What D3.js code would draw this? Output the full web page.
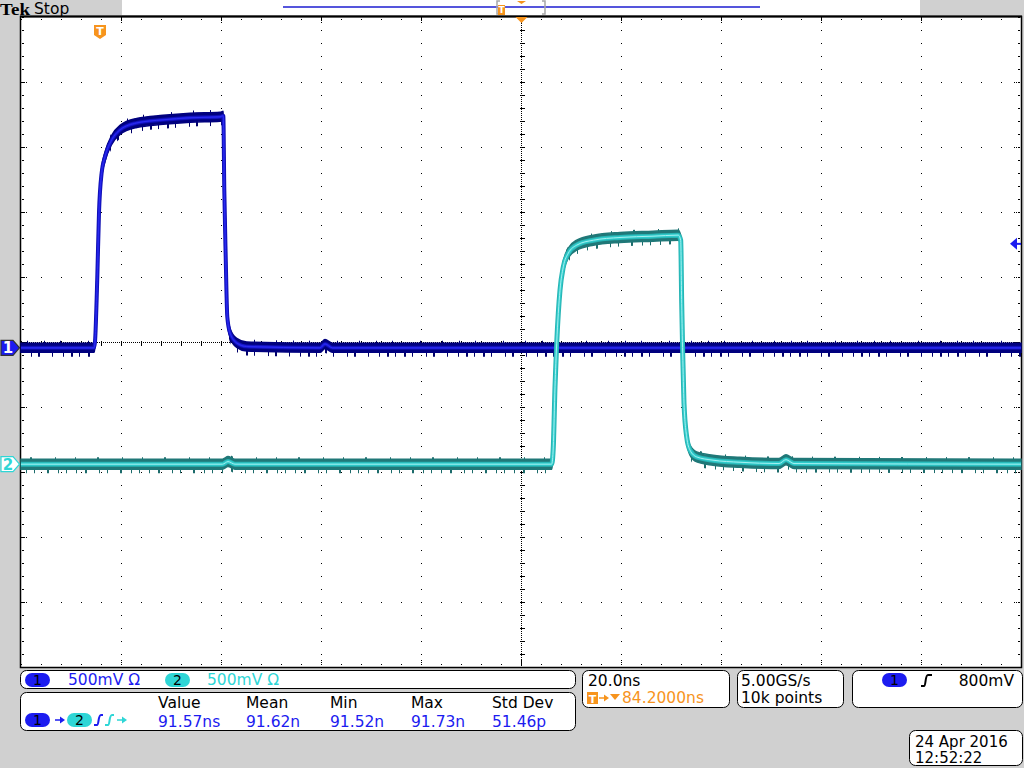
<!DOCTYPE html>
<html><head><meta charset="utf-8">
<script src="https://cdn.jsdelivr.net/npm/d3@7"></script>
<style>
body{margin:0;background:#d0d0d0;}
svg{display:block;}
text{font-family:"DejaVu Sans",sans-serif;}
</style>
</head><body>
<svg id="c" width="1024" height="768"></svg>
<script>
// ---------------- DATA ----------------
// Horizontal: 20 ns/div, trigger delay 84.2 ns at center
const timeTicks = [-15.8, 4.2, 24.2, 44.2, 64.2, 84.2, 104.2, 124.2, 144.2, 164.2, 184.2];
// Vertical divisions
const divTicks = [-5, -4, -3, -2, -1, 0, 1, 2, 3, 4, 5];
const voltsPerDiv = 0.5;
const ch1Position = -0.09;   // divisions
const ch2Position = -1.88;   // divisions
const triggerLevel = 0.8;    // volts on CH1

// Channel 1 (ns, V)
const ch1Time  = [-15.8, -1.2, -1.0, -0.54, -0.2, 0.34, 1.0, 2.34, 4.0, 7.34, 12.6, 18.0, 24.0, 24.66, 24.86, 25.14, 25.46, 26.0, 27.34, 29.34, 44.0, 45.0, 46.5, 184.2];
const ch1Volts = [0, 0, 0.046, 0.546, 1.04, 1.35, 1.47, 1.6, 1.677, 1.73, 1.754, 1.77, 1.777, 1.785, 1.215, 0.70, 0.238, 0.115, 0.038, 0.01, 0, 0.03, 0, 0];

// Channel 2 (ns, V)
const ch2Time  = [-15.8, 24.5, 25.6, 27.0, 90.34, 90.66, 91.0, 91.34, 91.66, 92.0, 92.66, 93.66, 95.34, 98.66, 104, 110.6, 115.66, 116.14, 116.34, 116.54, 116.8, 117.34, 118.0, 119.34, 122.6, 128, 135.8, 137.2, 138.8, 184.2];
const ch2Volts = [0, 0, 0.02, 0, 0, 0.133, 0.595, 0.93, 1.16, 1.338, 1.518, 1.623, 1.685, 1.723, 1.744, 1.754, 1.762, 1.723, 1.238, 0.854, 0.469, 0.21, 0.108, 0.056, 0.031, 0.015, 0.005, 0.035, 0.005, 0];

// Measurement readout
const measHeaders = ["Value", "Mean", "Min", "Max", "Std Dev"];
const measValues  = ["91.57ns", "91.62n", "91.52n", "91.73n", "51.46p"];

// ---------------- SETUP ----------------
const svg = d3.select("#c");
const L = 21, R = 1021, T = 17, B = 667;
const x = d3.scaleLinear().domain([timeTicks[0], timeTicks[timeTicks.length-1]]).range([L, R]);
const yDiv = d3.scaleLinear().domain([divTicks[0], divTicks[divTicks.length-1]]).range([B, T]);
const yCh = pos => v => yDiv(v / voltsPerDiv + pos);

const BLUE = "#1c1cf0", CYAN = "#2fd6d6", ORANGE = "#f7941d";

svg.append("rect").attr("width", 1024).attr("height", 768).attr("fill", "#d0d0d0");
svg.append("rect").attr("x", L).attr("y", T).attr("width", R - L).attr("height", B - T).attr("fill", "#fff");

// patterns for noise spikes (irregular stripes)
const defs = svg.append("defs");
function spikePattern(id, color, stripes, w) {
  const p = defs.append("pattern").attr("id", id).attr("patternUnits", "userSpaceOnUse")
    .attr("width", w).attr("height", 40);
  stripes.forEach(([px, sw]) =>
    p.append("rect").attr("x", px).attr("y", 0).attr("width", sw).attr("height", 40).attr("fill", color));
}
spikePattern("sp1", "#00006a", [[0,1],[9,2],[17,1],[31,1],[38,2],[52,1],[63,1],[71,2]], 79);
spikePattern("sp2", "#1d6c6c", [[3,1],[12,2],[26,1],[34,1],[47,2],[58,1],[66,1]], 73);
spikePattern("sp1u", "#00006a", [[5,1],[27,1],[44,1],[60,1]], 83);
spikePattern("sp2u", "#1d6c6c", [[8,1],[30,2],[55,1]], 67);

// ---------------- GRATICULE ----------------
const g = svg.append("g").attr("shape-rendering", "crispEdges");
const centerT = timeTicks[5], centerD = 0;
timeTicks.slice(1, -1).forEach(t => {
  if (t === centerT) return;
  const px = Math.round(x(t)) + 0.5;
  g.append("line").attr("x1", px).attr("x2", px).attr("y1", T).attr("y2", B)
    .attr("stroke", "#000").attr("stroke-dasharray", "1 12");
});
divTicks.slice(1, -1).forEach(d => {
  if (d === centerD) return;
  const py = Math.round(yDiv(d)) + 0.5;
  g.append("line").attr("x1", L).attr("x2", R).attr("y1", py).attr("y2", py)
    .attr("stroke", "#000").attr("stroke-dasharray", "1 19");
});
// center lines
const cx = Math.round(x(centerT)) + 0.5, cy = Math.round(yDiv(centerD)) + 0.5;
g.append("line").attr("x1", cx).attr("x2", cx).attr("y1", T).attr("y2", B)
  .attr("stroke", "#000").attr("stroke-dasharray", "1 1");
g.append("line").attr("x1", L).attr("x2", R).attr("y1", cy).attr("y2", cy)
  .attr("stroke", "#000").attr("stroke-dasharray", "1 1");
const minorY = d3.range(T, B, (yDiv(0) - yDiv(1)) / 5);
const minorX = d3.range(L, R, (x(timeTicks[1]) - x(timeTicks[0])) / 5);
minorY.forEach(py => {
  const yy = Math.round(py) + 0.5;
  g.append("line").attr("x1", cx - 2).attr("x2", cx + 3).attr("y1", yy).attr("y2", yy).attr("stroke", "#000");
  g.append("line").attr("x1", L + 1).attr("x2", L + 3).attr("y1", yy).attr("y2", yy).attr("stroke", "#000");
  g.append("line").attr("x1", R - 3).attr("x2", R - 1).attr("y1", yy).attr("y2", yy).attr("stroke", "#000");
});
minorX.forEach(px => {
  const xx = Math.round(px) + 0.5;
  g.append("line").attr("x1", xx).attr("x2", xx).attr("y1", cy - 2).attr("y2", cy + 3).attr("stroke", "#000");
  g.append("line").attr("x1", xx).attr("x2", xx).attr("y1", T + 2).attr("y2", T + 3).attr("stroke", "#000");
  g.append("line").attr("x1", xx).attr("x2", xx).attr("y1", B - 3).attr("y2", B - 2).attr("stroke", "#000");
});
timeTicks.slice(1, -1).forEach(t => {
  const xx = Math.round(x(t)) + 0.5;
  g.append("line").attr("x1", xx).attr("x2", xx).attr("y1", T + 1).attr("y2", T + 7).attr("stroke", "#000").attr("stroke-dasharray", "1 1");
  g.append("line").attr("x1", xx).attr("x2", xx).attr("y1", B - 7).attr("y2", B - 1).attr("stroke", "#000").attr("stroke-dasharray", "1 1");
});
divTicks.slice(1, -1).forEach(d => {
  const yy = Math.round(yDiv(d)) + 0.5;
  g.append("line").attr("x1", L + 1).attr("x2", L + 7).attr("y1", yy).attr("y2", yy).attr("stroke", "#000").attr("stroke-dasharray", "1 1");
  g.append("line").attr("x1", R - 7).attr("x2", R - 1).attr("y1", yy).attr("y2", yy).attr("stroke", "#000").attr("stroke-dasharray", "1 1");
});
// border
svg.append("rect").attr("x", L - 0.5).attr("y", T - 0.5).attr("width", R - L + 1).attr("height", B - T + 1)
  .attr("fill", "none").attr("stroke", "#000").attr("stroke-width", 1.5);
svg.append("line").attr("x1", L - 1).attr("x2", R + 1).attr("y1", T - 0.5).attr("y2", T - 0.5)
  .attr("stroke", "#000").attr("stroke-width", 2);

// ---------------- TRACES ----------------
function drawTrace(times, volts, pos, cols) {
  const yf = yCh(pos);
  const data = times.map((t, i) => ({ t, v: volts[i] }));
  const area = (up, dn) => d3.area().x(d => x(d.t)).y0(d => yf(d.v) - up).y1(d => yf(d.v) + dn).curve(d3.curveMonotoneX);
  const line = d3.line().x(d => x(d.t)).y(d => yf(d.v)).curve(d3.curveMonotoneX);
  const gt = svg.append("g");
  gt.append("path").datum(data).attr("d", area(0, 9)).attr("fill", cols.spike);
  gt.append("path").datum(data).attr("d", area(7, 0)).attr("fill", cols.spikeUp);
  gt.append("path").datum(data).attr("d", area(cols.hu, cols.hd)).attr("fill", cols.band)
    .attr("stroke", cols.band).attr("stroke-width", 1.5);
  gt.append("path").datum(data).attr("d", line).attr("fill", "none").attr("stroke", cols.edge).attr("stroke-width", cols.ew);
  gt.append("path").datum(data).attr("d", line).attr("fill", "none").attr("stroke", cols.core).attr("stroke-width", cols.cw);
  if (cols.center) gt.append("path").datum(data).attr("d", line).attr("fill", "none").attr("stroke", cols.center).attr("stroke-width", 1);
}
drawTrace(ch1Time, ch1Volts, ch1Position, { spike: "url(#sp1)", spikeUp: "url(#sp1u)", band: "#00007e", hu: 4.5, hd: 4.5,
  edge: "#0e0eb0", ew: 4, core: "#1a1ad8", cw: 2.4, center: "#2c2cf2" });
drawTrace(ch2Time, ch2Volts, ch2Position, { spike: "url(#sp2)", spikeUp: "url(#sp2u)", band: "#207878", hu: 5, hd: 5,
  edge: "#28b4b4", ew: 5, core: "#30cccc", cw: 3, center: "#a6f0f0" });

// ---------------- MARKERS ----------------
function chMarker(pos, fill, stroke, txtCol, label) {
  const yy = yDiv(pos);
  const gm = svg.append("g");
  gm.append("path").attr("d", `M1,${yy-7.5} L13,${yy-7.5} L19.5,${yy} L13,${yy+7.5} L1,${yy+7.5} Z`)
    .attr("fill", fill).attr("stroke", stroke).attr("stroke-width", 1.2);
  gm.append("text").attr("x", 8).attr("y", yy + 5.5).attr("text-anchor", "middle")
    .attr("font-size", 15).attr("font-weight", "bold").attr("fill", txtCol).text(label);
}
chMarker(ch1Position, BLUE, "#333", "#fff", "1");
chMarker(ch2Position, "#fff", CYAN, CYAN, "2");

// trigger level arrow (right)
const ty = yCh(ch1Position)(triggerLevel);
svg.append("path").attr("d", `M1010,${ty} L1017,${ty-6} L1017,${ty+6} Z`).attr("fill", BLUE);
svg.append("line").attr("x1", 1016).attr("x2", R).attr("y1", ty).attr("y2", ty).attr("stroke", BLUE).attr("stroke-width", 2);

// trigger time marker "T"
const tx = x(0);
svg.append("path").attr("d", `M${tx-6},25 L${tx+6},25 L${tx+6},35 L${tx},39 L${tx-6},35 Z`).attr("fill", ORANGE);
svg.append("text").attr("x", tx).attr("y", 35).attr("text-anchor", "middle").attr("font-size", 11)
  .attr("font-weight", "bold").attr("fill", "#fff").text("T");

// center (delay) triangle at top of graticule
svg.append("path").attr("d", `M${cx-6},17 L${cx+6},17 L${cx},23 Z`).attr("fill", ORANGE);

// ---------------- TOP BAR ----------------
svg.append("text").attr("x", 0).attr("y", 14.5)
  .style("font-family", "'Liberation Serif', serif").style("font-weight", "bold").style("font-size", "17.5px")
  .attr("textLength", 30).attr("lengthAdjust", "spacingAndGlyphs").attr("fill", "#000").text("Tek");
svg.append("text").attr("x", 34).attr("y", 14).attr("font-size", 15.5).attr("fill", "#000").text("Stop");
svg.append("rect").attr("x", 122).attr("y", 0).attr("width", 798).attr("height", 15).attr("fill", "#fff");
svg.append("line").attr("x1", 283).attr("x2", 760).attr("y1", 7).attr("y2", 7).attr("stroke", "#1c1cd0").attr("stroke-width", 1.5);
svg.append("path").attr("d", "M500,1 L497,1 L497,14 L500,14").attr("fill", "none").attr("stroke", "#a8a8a8").attr("stroke-width", 1.5);
svg.append("path").attr("d", "M542,1 L545,1 L545,14 L542,14").attr("fill", "none").attr("stroke", "#a8a8a8").attr("stroke-width", 1.5);
svg.append("rect").attr("x", 498).attr("y", 5).attr("width", 7).attr("height", 10).attr("fill", ORANGE);
svg.append("text").attr("x", 501.5).attr("y", 13).attr("text-anchor", "middle").attr("font-size", 9).attr("font-weight", "bold").attr("fill", "#fff").text("T");
svg.append("path").attr("d", "M517,1 L526,1 L521.5,4 Z").attr("fill", ORANGE);

// ---------------- BOTTOM PANELS ----------------
function panel(x0, y0, w, h) {
  svg.append("rect").attr("x", x0 + 0.5).attr("y", y0 + 0.5).attr("width", w).attr("height", h).attr("rx", 6)
    .attr("fill", "#fff").attr("stroke", "#000").attr("stroke-width", 1);
}
function pill(x0, y0, fill, label) {
  svg.append("rect").attr("x", x0).attr("y", y0).attr("width", 25).attr("height", 14).attr("rx", 7).attr("fill", fill);
  svg.append("text").attr("x", x0 + 12.5).attr("y", y0 + 12).attr("text-anchor", "middle").attr("font-size", 14).attr("fill", "#000").text(label);
}
function txt(x0, y0, s, col, anchor, size) {
  return svg.append("text").attr("x", x0).attr("y", y0).attr("font-size", size || 15.5).attr("fill", col)
    .attr("text-anchor", anchor || "start").text(s);
}
function stepIcon(x0, y0, col) {
  svg.append("path").attr("d", `M${x0},${y0+10} L${x0+3},${y0+10} C${x0+5},${y0+10} ${x0+4},${y0} ${x0+7},${y0} L${x0+9},${y0}`)
    .attr("fill", "none").attr("stroke", col).attr("stroke-width", 2);
}
function arrowIcon(x0, y0, col) {
  svg.append("line").attr("x1", x0).attr("x2", x0 + 7).attr("y1", y0).attr("y2", y0).attr("stroke", col).attr("stroke-width", 1.5);
  svg.append("path").attr("d", `M${x0+5},${y0-3.5} L${x0+10},${y0} L${x0+5},${y0+3.5} Z`).attr("fill", col);
}

panel(20, 670, 555, 18);
pill(25, 673, BLUE, "1");
txt(68, 685, "500mV Ω", BLUE);
pill(165, 673, CYAN, "2");
txt(207, 685, "500mV Ω", CYAN);

panel(20, 692, 555, 38);
const measX = [158, 246, 330, 411, 492];
measHeaders.forEach((h, i) => txt(measX[i], 708, h, "#000"));
measValues.forEach((v, i) => txt(measX[i], 727, v, BLUE));
pill(25, 713, BLUE, "1");
arrowIcon(55, 720, BLUE);
pill(67, 713, CYAN, "2");
stepIcon(94, 715, BLUE);
stepIcon(105, 715, CYAN);
arrowIcon(117, 720, CYAN);

panel(582, 670, 147, 37);
txt(588, 686, "20.0ns", "#000");
svg.append("rect").attr("x", 587).attr("y", 692).attr("width", 11).attr("height", 12).attr("fill", ORANGE);
svg.append("text").attr("x", 592.5).attr("y", 702.5).attr("text-anchor", "middle").attr("font-size", 11).attr("font-weight", "bold").attr("fill", "#fff").text("T");
arrowIcon(599, 698, ORANGE);
svg.append("path").attr("d", "M610,694 L620,694 L615,700 Z").attr("fill", ORANGE);
txt(622, 703, "84.2000ns", ORANGE);

panel(737, 670, 106, 37);
txt(741, 686, "5.00GS/s", "#000");
txt(741, 703, "10k points", "#000");

panel(852, 670, 170, 37);
pill(882, 673, BLUE, "1");
svg.append("path").attr("d", "M921,686 L924,686 C926,686 925,675 928,675 L932,675").attr("fill", "none").attr("stroke", "#000").attr("stroke-width", 2);
txt(1014, 686, "800mV", "#000", "end");

panel(909, 730, 113, 35);
txt(915, 747, "24 Apr 2016", "#000", "start", 15);
txt(915, 763, "12:52:22", "#000", "start", 15);
</script>
</body></html>
